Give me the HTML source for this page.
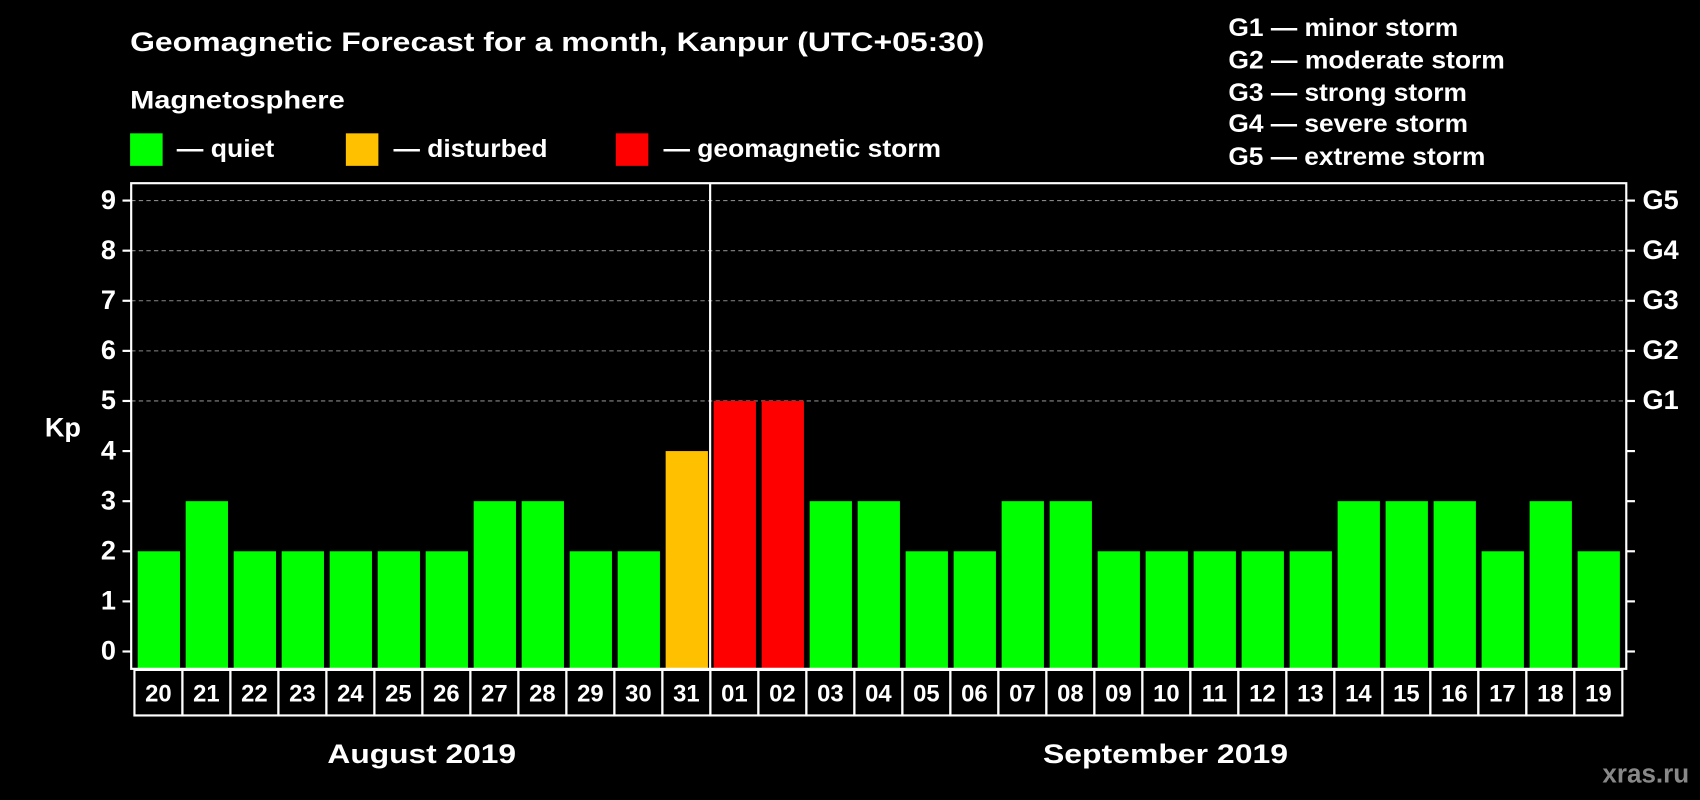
<!DOCTYPE html>
<html><head><meta charset="utf-8"><style>
html,body{margin:0;padding:0;background:#000;}
svg{display:block;font-family:"Liberation Sans",Arial,sans-serif;font-weight:bold;}
</style></head><body>
<svg id="chart" width="1700" height="800" viewBox="0 0 1568 738" preserveAspectRatio="none">
<rect x="0" y="0" width="1568" height="738" fill="#000"/>
<text x="120" y="47" fill="#fff" font-size="25" textLength="788" lengthAdjust="spacingAndGlyphs">Geomagnetic Forecast for a month, Kanpur (UTC+05:30)</text>
<text x="120" y="100" fill="#fff" font-size="23" textLength="198" lengthAdjust="spacingAndGlyphs">Magnetosphere</text>
<rect x="120" y="123" width="30" height="30" fill="#00ff00"/>
<text x="163" y="145" fill="#fff" font-size="23" textLength="90" lengthAdjust="spacingAndGlyphs">— quiet</text>
<rect x="319" y="123" width="30" height="30" fill="#ffc000"/>
<text x="363" y="145" fill="#fff" font-size="23" textLength="142" lengthAdjust="spacingAndGlyphs">— disturbed</text>
<rect x="568" y="123" width="30" height="30" fill="#ff0000"/>
<text x="612" y="145" fill="#fff" font-size="23" textLength="256" lengthAdjust="spacingAndGlyphs">— geomagnetic storm</text>
<g fill="#fff" font-size="23">
<text x="1133" y="33" textLength="212" lengthAdjust="spacingAndGlyphs">G1 — minor storm</text>
<text x="1133" y="63" textLength="255" lengthAdjust="spacingAndGlyphs">G2 — moderate storm</text>
<text x="1133" y="93" textLength="220" lengthAdjust="spacingAndGlyphs">G3 — strong storm</text>
<text x="1133" y="122" textLength="221" lengthAdjust="spacingAndGlyphs">G4 — severe storm</text>
<text x="1133" y="152" textLength="237" lengthAdjust="spacingAndGlyphs">G5 — extreme storm</text>
</g>
<text x="58" y="396" fill="#fff" font-size="25" text-anchor="middle" dominant-baseline="middle">Kp</text>
<g id="grid"></g>
<g id="bars"></g>
<rect x="121" y="169" width="1379" height="448" fill="none" stroke="#fff" stroke-width="2"/>
<line x1="655" y1="169" x2="655" y2="617" stroke="#fff" stroke-width="2"/>
<g id="xlabels"></g>
<text x="302" y="704" fill="#fff" font-size="25" textLength="174" lengthAdjust="spacingAndGlyphs">August 2019</text>
<text x="962" y="704" fill="#fff" font-size="25" textLength="226" lengthAdjust="spacingAndGlyphs">September 2019</text>
<text x="1558" y="722" fill="#888" font-size="24" text-anchor="end">xras.ru</text>
</svg>
<script>
const days=["20","21","22","23","24","25","26","27","28","29","30","31","01","02","03","04","05","06","07","08","09","10","11","12","13","14","15","16","17","18","19"];
const kpValues=[2,3,2,2,2,2,2,3,3,2,2,4,5,5,3,3,2,2,3,3,2,2,2,2,2,3,3,3,2,3,2];
const yTicks=[0,1,2,3,4,5,6,7,8,9];
const gLabels=["","","","","","G1","G2","G3","G4","G5"];
const NS="http://www.w3.org/2000/svg";
const PITCH=44.27;
function yScale(v){return 601-v*46.22;}
function xScale(i){return 124+i*PITCH;}
function mk(tag,attrs,parent){const e=document.createElementNS(NS,tag);for(const k in attrs)e.setAttribute(k,attrs[k]);parent.appendChild(e);return e;}
const grid=document.getElementById('grid'),bars=document.getElementById('bars'),xl=document.getElementById('xlabels');
yTicks.forEach((t,i)=>{
  const y=yScale(t);
  if(t>=5){const l=mk('line',{x1:121,x2:1500,y1:y,y2:y,stroke:'#888','stroke-dasharray':'4,3','stroke-width':1},grid);
    
    }
  const a=mk('line',{x1:113,x2:121,y1:y,y2:y,stroke:'#fff','stroke-width':2},grid);
  
  
  const b=mk('line',{x1:1500,x2:1508,y1:y,y2:y,stroke:'#fff','stroke-width':2},grid);
  
  
  const tx=mk('text',{x:107,y:y+1,fill:'#fff','font-size':25,'text-anchor':'end','dominant-baseline':'middle'},grid);
  tx.textContent=t;
  
  
  if(gLabels[i]){const g=mk('text',{x:1515,y:y+1,fill:'#fff','font-size':25,'dominant-baseline':'middle'},grid);
    g.textContent=gLabels[i];
    
    }
});
kpValues.forEach((v,i)=>{
  const col=v>=5?'#ff0000':(v>=4?'#ffc000':'#00ff00');
  const x=xScale(i)+3, y=yScale(v);
  const r=mk('rect',{x:x,y:y,width:39,height:617-y,fill:col},bars);
  
  
  const c=mk('rect',{x:xScale(i),y:618,width:PITCH,height:42,fill:'none',stroke:'#fff','stroke-width':2},xl);
  
  
  const t=mk('text',{x:xScale(i)+PITCH/2,y:647,fill:'#fff','font-size':22,'text-anchor':'middle'},xl);
  t.textContent=days[i];
  
  
});
</script>
</body></html>
